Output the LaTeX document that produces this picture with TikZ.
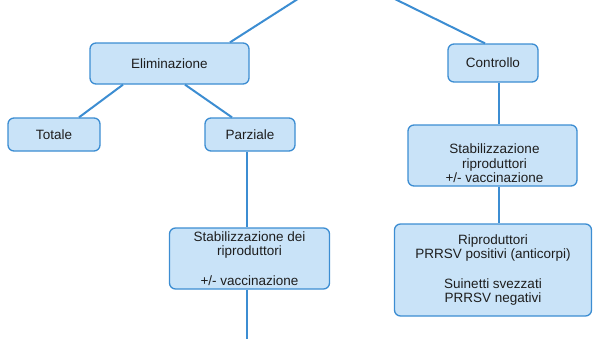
\documentclass[tikz,border=0pt]{standalone}
\usepackage{fontspec}
\setmainfont{Liberation Sans}
\definecolor{boxfill}{HTML}{C9E3F8}
\definecolor{boxline}{HTML}{3C8DD2}
\definecolor{txtdark}{HTML}{1E1E1E}

\begin{document}
\begin{tikzpicture}[
  x=1pt, y=-1pt,
  box/.style={draw=boxline, fill=boxfill, line width=1.3pt, rounded corners=6pt,
    inner sep=0pt, text=txtdark, align=center,
    font=\fontsize{13.5}{14.5}\selectfont},
  boxtext/.style={inner sep=0pt, text=txtdark, align=center,
    font=\fontsize{13.5}{14.5}\selectfont},
  link/.style={boxline, line width=2pt},
]

% Frame
\useasboundingbox (0,0) rectangle (600,338);
\clip (0,0) rectangle (600,338);

% Hidden parent above the picture
\coordinate (root) at (340,-28);
\coordinate (down) at (247,350);

% === Eliminazione branch ===
\node[box, minimum width=159pt, minimum height=41pt] (elim) at (169.5,63.5) {Eliminazione};
\node[box, minimum width=92pt, minimum height=33pt] (totale) at (54,134.5) {Totale};
\node[box, minimum width=90pt, minimum height=33pt] (parz) at (250,134.5) {Parziale};
\node[box, minimum width=160pt, minimum height=61pt] (stabp) at (249.5,258.5)
  {Stabilizzazione dei\\riproduttori\\[15pt]+/- vaccinazione};

% === Controllo branch ===
\node[box, minimum width=90pt, minimum height=38pt] (ctrl) at (493,63) {Controllo};
\node[box, minimum width=169pt, minimum height=61pt] (stabc) at (492.5,155.5) {};
\node[boxtext] (stabctxt) at (494.5,163.5)
  {Stabilizzazione\\riproduttori\\+/- vaccinazione};
\node[box, minimum width=197pt, minimum height=92pt] (ripr) at (493,270)
  {Riproduttori\\PRRSV positivi (anticorpi)\\[15pt]Suinetti svezzati\\PRRSV negativi};

% === Connectors ===
\draw[link] (root) -- ([xshift=60.5pt]elim.north);
\draw[link] (root) -- ([xshift=-8pt]ctrl.north);
\draw[link] ([xshift=-46.5pt]elim.south) -- ([xshift=25pt]totale.north);
\draw[link] ([xshift=15.5pt]elim.south) -- ([xshift=-18pt]parz.north);
\draw[link] ([xshift=-3pt]parz.south) -- ([xshift=-2.5pt]stabp.north);
\draw[link] ([xshift=-2.5pt]stabp.south) -- (down);
\draw[link] ([xshift=6pt]ctrl.south) -- ([xshift=6.5pt]stabc.north);
\draw[link] ([xshift=6.5pt]stabc.south) -- ([xshift=6pt]ripr.north);

\end{tikzpicture}
\end{document}
